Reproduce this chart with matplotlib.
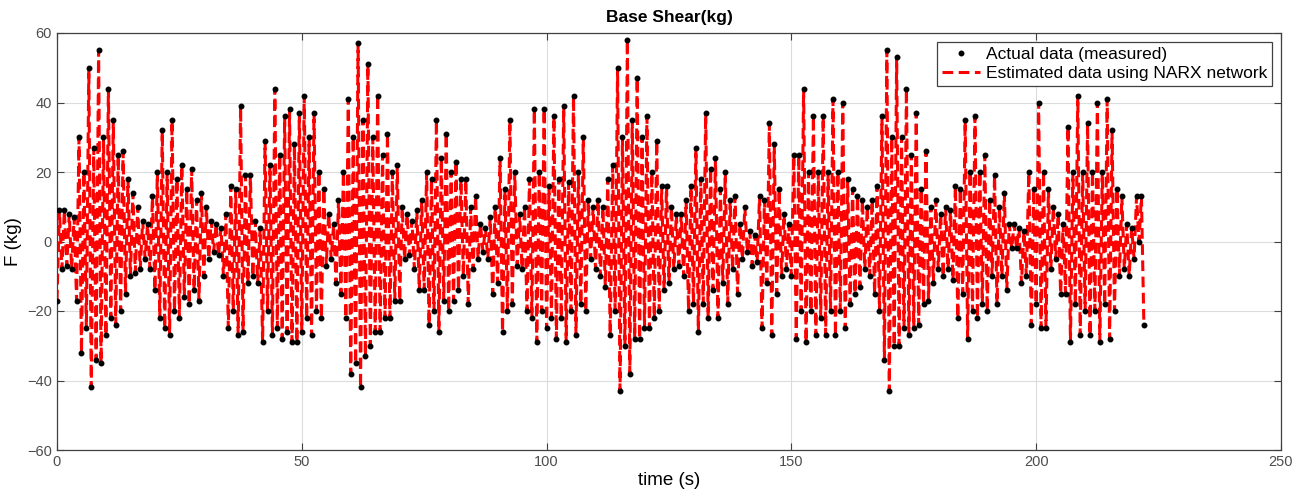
import numpy as np
import matplotlib
matplotlib.use("Agg")
import matplotlib.pyplot as plt

plt.rcParams['font.family'] = ['Liberation Sans', 'DejaVu Sans']

# Base shear readings, one trough and one peak per second of record (kg)
troughs = [
    -17, -8, -7, -8, -17, -32, -25, -42, -34, -35,
    -27, -22, -24, -20, -15, -10, -9, -8, -5, -8,
    -14, -22, -25, -27, -20, -22, -16, -18, -14, -17,
    -10, -5, -3, -4, -10, -25, -20, -27, -26, -12,
    -10, -12, -29, -20, -27, -25, -28, -26, -29, -29,
    -26, -22, -27, -20, -22, -7, -5, -12, -15, -22,
    -38, -35, -42, -33, -30, -26, -26, -22, -22, -17,
    -17, -5, -4, -8, -14, -14, -24, -20, -26, -17,
    -20, -17, -14, -10, -18, -8, -5, -3, -5, -15,
    -12, -26, -20, -18, -7, -8, -20, -22, -29, -20,
    -25, -22, -28, -22, -29, -20, -27, -18, -20, -5,
    -8, -10, -13, -27, -20, -43, -30, -38, -28, -28,
    -25, -25, -22, -20, -14, -12, -8, -7, -10, -20,
    -18, -26, -18, -22, -14, -22, -12, -18, -8, -15,
    -5, -3, -7, -6, -25, -12, -27, -15, -10, -8,
    -10, -28, -20, -29, -20, -27, -22, -27, -20, -27,
    -20, -25, -18, -15, -13, -8, -10, -15, -20, -34,
    -43, -30, -30, -25, -27, -25, -24, -18, -17, -12,
    -8, -10, -8, -11, -22, -15, -28, -20, -22, -18,
    -20, -10, -18, -10, -14, -2, -2, -12, -10, -24,
    -18, -25, -25, -8, -5, -15, -15, -29, -18, -27,
    -20, -27, -20, -29, -18, -28, -20, -10, -8, -10,
    -5, 0, -24,
]
peaks = [
    9, 9, 8, 7, 30, 20, 50, 27, 55, 30,
    44, 35, 25, 26, 18, 14, 10, 6, 5, 13,
    20, 32, 20, 35, 18, 22, 15, 21, 12, 14,
    10, 6, 5, 4, 8, 16, 15, 39, 19, 19,
    6, 4, 29, 22, 44, 25, 36, 38, 28, 37,
    42, 30, 37, 20, 15, 8, 5, 12, 20, 41,
    30, 57, 35, 51, 30, 42, 25, 31, 20, 22,
    10, 8, 6, 9, 12, 20, 18, 35, 24, 31,
    20, 23, 18, 18, 10, 13, 5, 4, 7, 10,
    24, 15, 35, 20, 8, 10, 18, 38, 20, 38,
    16, 36, 18, 39, 17, 42, 20, 30, 12, 10,
    12, 10, 18, 22, 50, 30, 58, 35, 47, 30,
    36, 20, 29, 16, 16, 10, 8, 8, 12, 16,
    27, 18, 37, 21, 24, 15, 20, 12, 13, 5,
    10, 3, 2, 13, 12, 34, 28, 15, 8, 5,
    25, 25, 44, 20, 36, 20, 36, 20, 41, 20,
    40, 18, 15, 13, 12, 10, 12, 16, 36, 55,
    30, 53, 30, 44, 25, 37, 15, 26, 10, 12,
    8, 10, 9, 16, 15, 35, 20, 36, 20, 25,
    12, 19, 10, 14, 5, 5, 4, 3, 20, 15,
    40, 20, 15, 10, 8, 5, 33, 20, 42, 20,
    34, 20, 40, 20, 41, 32, 15, 13, 5, 4,
    13, 13,
]

# interleave: trough at whole seconds, peak half a second later
t_trough = np.arange(len(troughs), dtype=float)
t_peak = np.arange(len(peaks), dtype=float) + 0.5
time = np.empty(len(troughs) + len(peaks))
force = np.empty_like(time)
time[0::2], force[0::2] = t_trough, troughs
time[1::2], force[1::2] = t_peak, peaks

fig = plt.figure(figsize=(13.01, 5.0), dpi=100)
ax = fig.add_axes([0.0438, 0.1, 0.9408, 0.834])

ax.plot(time, force, '.', color='black', markersize=6.5, label='Actual data (measured)', zorder=3)
ax.plot(time, force, '--', color='red', linewidth=2.2, dashes=(3.5, 1.8),
        label='Estimated data using NARX network', zorder=2)

ax.set_xlim(0, 250)
ax.set_ylim(-60, 60)
ax.set_xticks(np.arange(0, 251, 50))
ax.set_yticks(np.arange(-60, 61, 20))
ax.grid(True, color='#dcdcdc', linewidth=0.8)
ax.set_axisbelow(True)
ax.tick_params(direction='in', top=True, right=True, length=5,
               labelsize=10.5, colors='#404040', labelcolor='#4d4d4d')
for s in ax.spines.values():
    s.set_color('#404040')
    s.set_linewidth(0.9)

ax.set_title('Base Shear(kg)', fontsize=12.5, fontweight='bold', pad=8)
ax.set_xlabel('time (s)', fontsize=13.5, labelpad=2)
ax.set_ylabel('F (kg)', fontsize=13.5, labelpad=4)

leg = ax.legend(loc='upper right', fontsize=12.5, fancybox=False, framealpha=1,
                edgecolor='#404040', borderpad=0.3, labelspacing=0.2,
                handlelength=2.2, handletextpad=0.3, borderaxespad=0.5)
leg.get_frame().set_linewidth(0.9)

fig.savefig('out.png', dpi=100)
